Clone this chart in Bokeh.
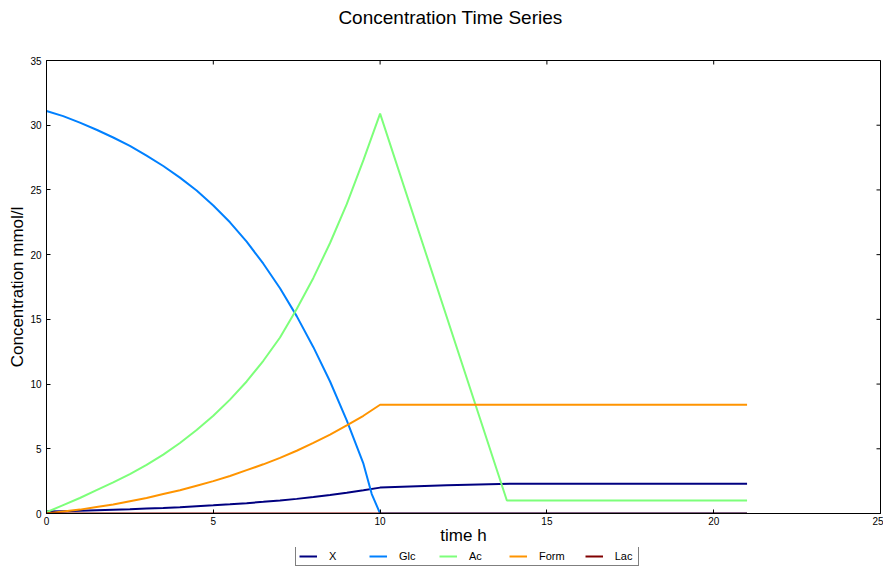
from math import pi

from bokeh.plotting import figure
from bokeh.layouts import column
from bokeh.models import Label, Legend, LegendItem, Range1d
from bokeh.embed import file_html
from bokeh.resources import INLINE

# --- data -------------------------------------------------------------
# time points of the growth phase (h)
growth_time = [0.0, 0.5, 1.0, 1.5, 2.0, 2.5, 3.0, 3.5, 4.0, 4.5, 5.0,
               5.5, 6.0, 6.5, 7.0, 7.5, 8.0, 8.5, 9.0, 9.5, 10.0]

# biomass X
x_time = growth_time + [12.0, 14.0, 21.0]
x_conc = [0.15, 0.18, 0.21, 0.25, 0.29, 0.33, 0.38, 0.43, 0.49, 0.56, 0.63,
          0.71, 0.8, 0.9, 1.01, 1.13, 1.27, 1.43, 1.6, 1.79, 2.0,
          2.18, 2.3, 2.3]

# glucose
glc_time = [0.0, 0.5, 1.0, 1.5, 2.0, 2.5, 3.0, 3.5, 4.0, 4.5, 5.0,
            5.5, 6.0, 6.5, 7.0, 7.5, 8.0, 8.5, 9.0, 9.5, 9.75, 10.0, 21.0]
glc_conc = [31.1, 30.7, 30.2, 29.65, 29.05, 28.4, 27.65, 26.85, 25.95, 24.95, 23.8,
            22.5, 21.0, 19.3, 17.4, 15.25, 12.85, 10.2, 7.2, 3.85, 1.5, 0.0, 0.0]

# acetate
ac_time = growth_time + [13.8, 21.0]
ac_conc = [0.1, 0.65, 1.2, 1.8, 2.4, 3.05, 3.75, 4.55, 5.45, 6.45, 7.55,
           8.8, 10.2, 11.8, 13.6, 15.8, 18.2, 20.9, 23.9, 27.3, 30.9,
           1.0, 1.0]

# formate
form_time = growth_time + [21.0]
form_conc = [0.0, 0.15, 0.3, 0.5, 0.7, 0.95, 1.2, 1.5, 1.8, 2.15, 2.5,
             2.9, 3.35, 3.8, 4.3, 4.85, 5.45, 6.1, 6.8, 7.55, 8.4,
             8.4]

# lactate
lac_time = [0.0, 21.0]
lac_conc = [0.0, 0.0]

series_names = ["X", "Glc", "Ac", "Form", "Lac"]
series_colors = ["#000080", "#0080ff", "#7dff7a", "#ff9400", "#800000"]

x_ticks = [0, 5, 10, 15, 20, 25]
y_ticks = [0, 5, 10, 15, 20, 25, 30, 35]

FONT = "Liberation Sans"


def blank_strip(height):
    """A figure without axes or grids, used for text and the legend."""
    s = figure(width=883, height=height, output_backend="svg",
               toolbar_location=None, x_axis_type=None, y_axis_type=None,
               min_border=0, x_range=Range1d(0, 1), y_range=Range1d(0, 1))
    s.outline_line_color = None
    s.background_fill_color = "white"
    s.border_fill_color = "white"
    return s


# --- title strip --------------------------------------------------------
head = blank_strip(40)
head.add_layout(Label(x=404, y=23, x_units="screen", y_units="screen",
                      text="Concentration Time Series", text_align="center",
                      text_baseline="alphabetic", text_font=FONT,
                      text_font_size="19px", text_color="black"))

# --- main plot --------------------------------------------------------
p = figure(width=883, height=507, output_backend="svg", toolbar_location=None,
           x_range=Range1d(x_ticks[0], x_ticks[-1]),
           y_range=Range1d(y_ticks[0], y_ticks[-1]),
           min_border_left=46, min_border_right=3,
           min_border_top=20, min_border_bottom=33)
p.outline_line_color = "black"
p.outline_line_width = 1
p.xgrid.visible = False
p.ygrid.visible = False
p.background_fill_color = "white"
p.border_fill_color = "white"

for ax in p.axis:
    ax.major_tick_in = 4
    ax.major_tick_out = 0
    ax.minor_tick_line_color = None
    ax.axis_line_color = "black"
    ax.major_tick_line_color = "black"
    ax.major_label_text_font = FONT
    ax.major_label_text_font_size = "10px"
    ax.major_label_text_color = "black"
    ax.axis_label_text_font = FONT
    ax.axis_label_text_font_size = "17px"
    ax.axis_label_text_font_style = "normal"
    ax.axis_label_text_color = "black"

p.xaxis.ticker = x_ticks
p.yaxis.ticker = y_ticks

p.xaxis.axis_label = "time h"
p.xaxis.axis_label_standoff = -2
p.xaxis.major_label_standoff = 3

p.yaxis.axis_label = "Concentration mmol/l"
p.yaxis.axis_label_standoff = 0
p.yaxis.major_label_standoff = 5

# inward tick marks on the top and right edges of the frame
p.scatter(x_ticks, [y_ticks[-1]] * len(x_ticks), marker="dash", angle=pi / 2,
          size=8, line_color="black", line_width=1)
p.scatter([x_ticks[-1]] * len(y_ticks), y_ticks, marker="dash",
          size=8, line_color="black", line_width=1)

times = [x_time, glc_time, ac_time, form_time, lac_time]
concs = [x_conc, glc_conc, ac_conc, form_conc, lac_conc]
for color, t, c in zip(series_colors, times, concs):
    p.line(t, c, line_color=color, line_width=2)

# --- legend strip under the plot ---------------------------------------
foot = blank_strip(19)
items = []
for name, color, t, c in zip(series_names, series_colors, times, concs):
    # hidden stand-in renderer that only supplies the legend key style
    key = foot.line(t[:1], c[:1], line_color=color, line_width=2, visible=False)
    items.append(LegendItem(label=name, renderers=[key]))

legend = Legend(items=items, orientation="horizontal", location=(249, 0),
                label_text_font=FONT, label_text_font_size="11px",
                label_text_color="black",
                glyph_width=18, glyph_height=12, label_height=12,
                label_standoff=12, spacing=20, padding=3, margin=0,
                border_line_color="black", border_line_width=1,
                background_fill_color="white", background_fill_alpha=1)
foot.add_layout(legend)

open("out.html", "w").write(file_html(column(head, p, foot), INLINE))
